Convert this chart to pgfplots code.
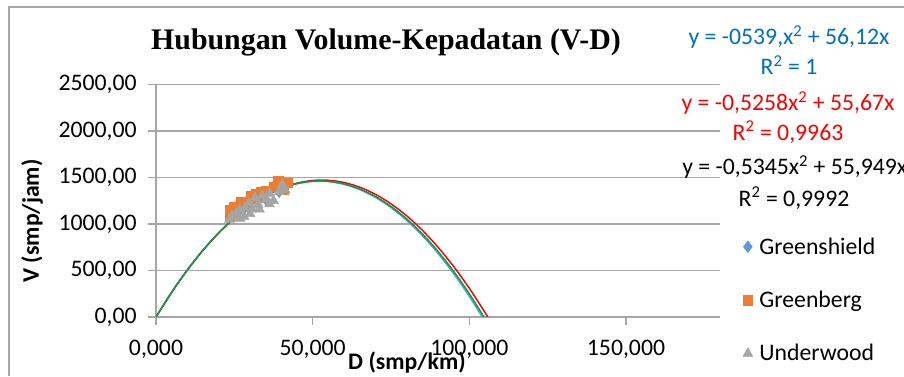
\documentclass[border=0pt]{standalone}
\usepackage{pgfplots}
\pgfplotsset{compat=1.18}
\usepackage{fontspec}
\setmainfont{Carlito}
\newfontfamily\timesfont{Liberation Serif}
\definecolor{gsblue}{HTML}{5B9BD5}
\definecolor{gborange}{HTML}{ED7D31}
\definecolor{uwgrey}{HTML}{A5A5A5}
\definecolor{eqblue}{HTML}{0070C0}
\definecolor{fitgreen}{HTML}{00A04F}
\definecolor{gridgrey}{HTML}{A6A6A6}
\newcommand\cfont{\fontsize{17.8}{21}\selectfont}
\begin{document}
\begin{tikzpicture}
\useasboundingbox (0,0) rectangle (678pt,282pt);
\begin{axis}[
  at={(117pt,44.25pt)}, anchor=south west,
  scale only axis, width=423pt, height=174.3pt,
  xmin=0, xmax=180, ymin=0, ymax=2500,
  xtick={0,50,100,150}, ytick={0,500,1000,1500,2000,2500},
  axis lines=left, axis line style={gridgrey, line width=0.9pt, -},
  ymajorgrids, grid style={gridgrey, line width=0.9pt},
  tick align=outside, major tick length=6pt,
  tick style={gridgrey, line width=0.9pt},
  xtick pos=bottom, ytick pos=left,
  ticklabel style={font=\cfont},
  /pgf/number format/assume math mode=true,
  xticklabel style={yshift=-8pt, /pgf/number format/.cd, fixed, fixed zerofill, precision=3, use comma, 1000 sep={}},
  yticklabel style={xshift=-5pt, /pgf/number format/.cd, fixed, fixed zerofill, precision=2, use comma, 1000 sep={}},
  scaled ticks=false,
  clip=true,
  legend style={at={(1.033,0.366)}, anchor=north west, draw=none, fill=none,
    font=\cfont, row sep=22.2pt, cells={anchor=west}},
  legend cell align=left,
]
% Greenshield data (diamonds)
\addplot[only marks, mark=diamond*, mark size=4.4pt, color=gsblue] coordinates {
(24.3,1088)(25.6,1110)(26.8,1153)(28.4,1175)(29.7,1228)(31.6,1282)(33.9,1304)(35.1,1261)(39.3,1347)(40.3,1422)};
\addlegendentry{\,Greenshield}
% Greenberg data (squares)
\addplot[only marks, mark=square*, mark size=3.6pt, color=gborange] coordinates {
(23.5,1093)(23.5,1150)(25.0,1180)(27.2,1234)(28.3,1220)(30.4,1304)(30.7,1270)(32.0,1320)(33.5,1345)(33.2,1300)(35.0,1360)(39.0,1465)(41.9,1444)(40.6,1368)(37.8,1400)};
\addlegendentry{\,Greenberg}
% Underwood data (triangles)
\addplot[only marks, mark=triangle*, mark size=4.3pt, color=uwgrey] coordinates {
(23.5,1050)(24.3,1088)(25.6,1110)(26.8,1153)(26.8,1060)(28.1,1080)(28.4,1175)(29.7,1228)(30.7,1160)(30.0,1110)(31.6,1282)(32.6,1210)(33.0,1160)(33.9,1304)(35.1,1261)(36.2,1215)(36.2,1330)(37.5,1250)(39.3,1347)(40.3,1422)(41.2,1368)};
\addlegendentry{\,Underwood}
% Trendlines
\addplot[forget plot, smooth, color=gsblue, line width=1.1pt] coordinates {
(0,0)(5,267.1)(10,507.3)(15,720.5)(20,906.8)(25,1066.1)(30,1198.5)(35,1303.9)(40,1382.4)(45,1433.9)(50,1458.5)(55,1456.1)(60,1426.8)(65,1370.5)(70,1287.3)(75,1177.1)(80,1040.0)(85,875.9)(90,684.9)(95,466.9)(100,222.0)(104.12,0)};
\addplot[forget plot, smooth, color=red, line width=1.1pt] coordinates {
(0,0)(5,265.2)(10,504.1)(15,716.7)(20,903.1)(25,1063.1)(30,1196.9)(35,1304.3)(40,1385.5)(45,1440.4)(50,1469.0)(55,1471.3)(60,1447.3)(65,1397.0)(70,1320.5)(75,1217.6)(80,1088.5)(85,933.0)(90,751.3)(95,543.3)(100,309.0)(105,48.4)(105.88,0)};
\addplot[forget plot, smooth, color=fitgreen, line width=1.1pt] coordinates {
(0,0)(5,266.4)(10,506.0)(15,719.0)(20,905.2)(25,1064.7)(30,1197.4)(35,1303.5)(40,1382.8)(45,1435.3)(50,1461.2)(55,1460.3)(60,1432.7)(65,1378.4)(70,1297.4)(75,1189.6)(80,1055.1)(85,893.9)(90,706.0)(95,491.3)(100,249.9)(104.67,0)};
\end{axis}
\begin{scope}[x=0.75pt, y=0.75pt]
\draw[gridgrey, line width=0.9pt] (9,0) -- (9,369) -- (904,369);
\node[font=\timesfont\bfseries\fontsize{22.4}{26}\selectfont] at (386,334) {Hubungan Volume-Kepadatan (V-D)};
\node[font=\cfont\bfseries, rotate=90] at (32,155) {V (smp/jam)};
\node[font=\cfont\bfseries] at (407,13) {D (smp/km)};
\node[font=\cfont, text=eqblue] at (789,339) {y = -0539,x\textsuperscript{2} + 56,12x};
\node[font=\cfont, text=eqblue] at (789,311) {R\textsuperscript{2} = 1};
\node[font=\cfont, text=red] at (788,273) {y = -0,5258x\textsuperscript{2} + 55,67x};
\node[font=\cfont, text=red] at (788,244) {R\textsuperscript{2} = 0,9963};
\node[font=\cfont, anchor=west, inner sep=0pt] at (682,209) {y = -0,5345x\textsuperscript{2} + 55,949x};
\node[font=\cfont] at (794,178) {R\textsuperscript{2} = 0,9992};
\end{scope}
\end{tikzpicture}
\end{document}
